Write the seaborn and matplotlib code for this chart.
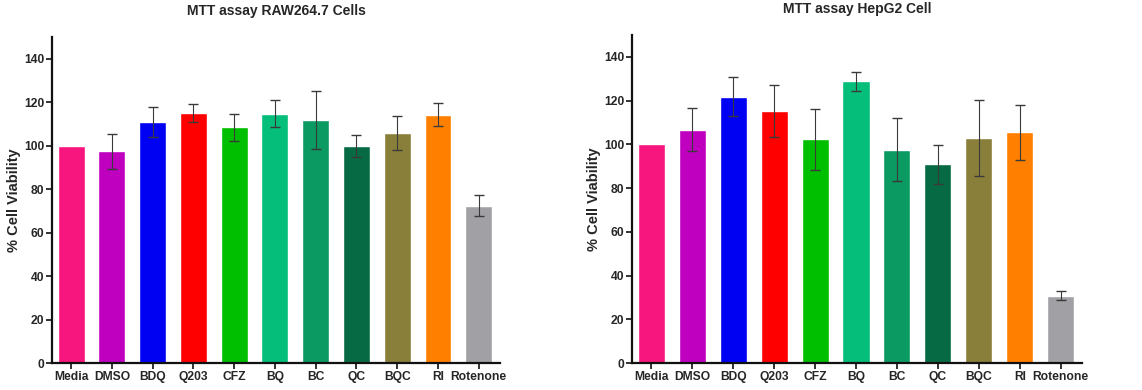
import numpy as np
import pandas as pd
import matplotlib
matplotlib.use("Agg")
import matplotlib.pyplot as plt
import seaborn as sns

# data
groups = ['Media', 'DMSO', 'BDQ', 'Q203', 'CFZ', 'BQ', 'BC', 'QC', 'BQC', 'RI', 'Rotenone']
raw_mean = [100, 97.5, 110.9, 115.1, 108.6, 114.8, 111.7, 100, 105.8, 114.3, 72.5]
raw_err = [0, 8, 7.1, 4.0, 6.2, 6.1, 13.4, 5.0, 7.8, 5.2, 4.9]
hep_mean = [100, 106.8, 121.8, 115.2, 102.3, 128.8, 97.6, 90.9, 103.0, 105.6, 30.9]
hep_err = [0, 10, 9.0, 12.0, 14.0, 4.5, 14.3, 9.0, 17.3, 12.6, 1.9]
colors = ['#F7157E', '#BF00BF', '#0000F2', '#FF0000', '#00BF00', '#05BE7A',
          '#0A9A62', '#066A44', '#8A7F3A', '#FF8000', '#A1A1A5']

sns.set_theme(style='white')
plt.rcParams['font.family'] = ['Liberation Sans', 'DejaVu Sans']
plt.rcParams['font.weight'] = 'bold'

fig = plt.figure(figsize=(11.42, 3.9), dpi=100)
ax1 = fig.add_axes([0.0455, 0.069, 0.3923, 0.836])
ax2 = fig.add_axes([0.5534, 0.069, 0.3941, 0.841])

panels = [
    (ax1, raw_mean, raw_err, 'MTT assay RAW264.7 Cells', -0.07),
    (ax2, hep_mean, hep_err, 'MTT assay HepG2 Cell', -0.068),
]

for ax, means, errs, title, lab_x in panels:
    df = pd.DataFrame({'group': groups, 'value': means})
    sns.barplot(data=df, x='group', y='value', hue='group', palette=colors,
                legend=False, width=0.66, ax=ax, saturation=1)
    # Media is the reference (no error bar drawn)
    idx = [i for i, e in enumerate(errs) if e > 0]
    ax.errorbar(idx, [means[i] for i in idx], yerr=[errs[i] for i in idx], fmt='none',
                ecolor='#3a3a3a', elinewidth=0.8, capsize=3.5, capthick=1.0)
    ax.set_xlim(-0.47, 10.52)
    ax.set_ylim(0, 150)
    ax.set_yticks(range(0, 141, 20))
    ax.set_xlabel('')
    ax.set_ylabel('% Cell Viability', fontsize=10.5, fontweight='bold')
    ax.yaxis.set_label_coords(lab_x, 0.5)
    ax.set_title(title, fontsize=10, fontweight='bold', pad=16)
    sns.despine(ax=ax)
    for s in ['left', 'bottom']:
        ax.spines[s].set_linewidth(1.6)
        ax.spines[s].set_color('#111111')
    ax.tick_params(axis='both', which='both', direction='out', length=4, width=1.2,
                   color='#111111', labelsize=8.7, pad=1.5, left=True, bottom=True)
    for lab in ax.get_xticklabels() + ax.get_yticklabels():
        lab.set_fontweight('bold')

fig.savefig('out.png', dpi=100)
